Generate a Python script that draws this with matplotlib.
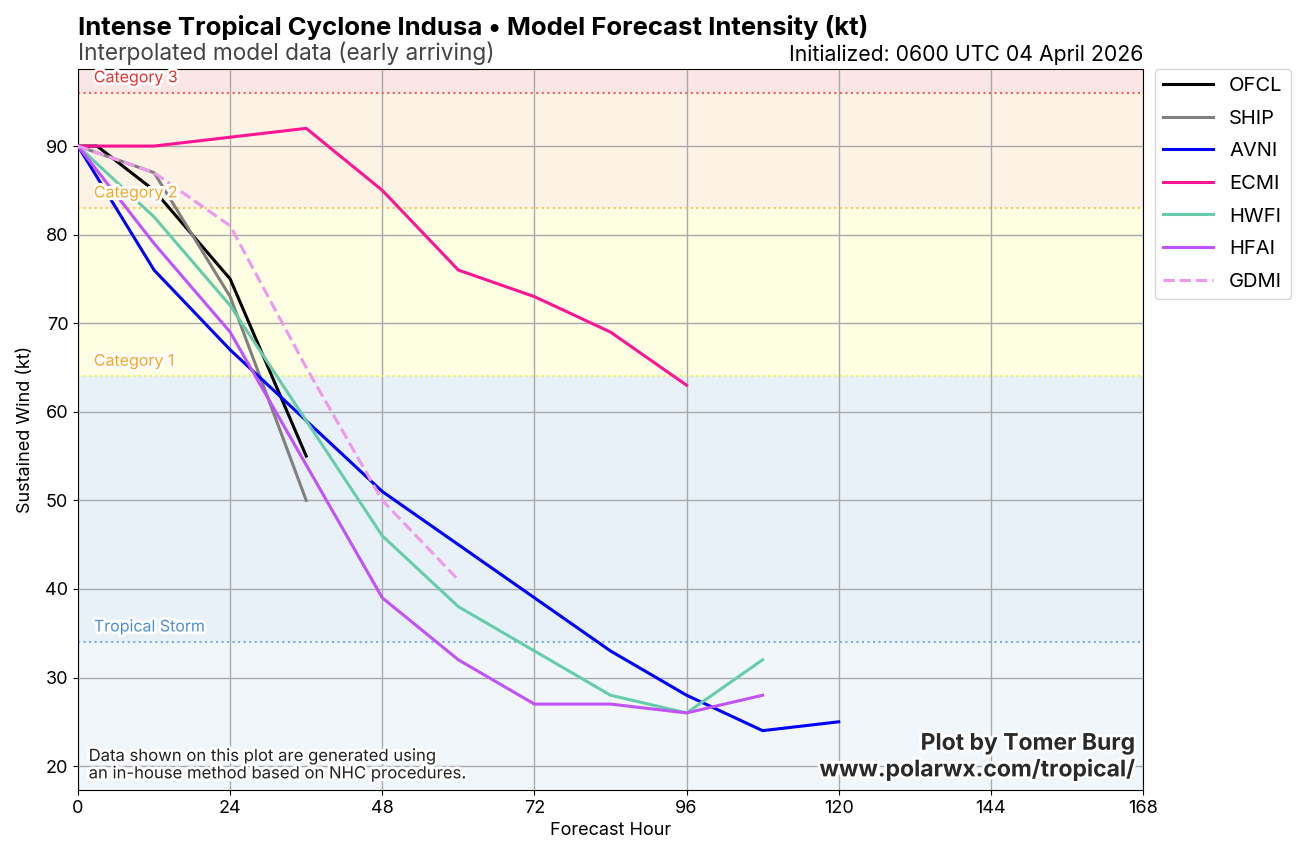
import matplotlib
matplotlib.use("Agg")
import matplotlib.pyplot as plt
import matplotlib.patheffects as pe

plt.rcParams['font.family'] = ['Inter', 'DejaVu Sans']

# forecast hours and intensities (kt) per model
hours = [0, 12, 24, 36, 48, 60, 72, 84, 96, 108, 120]
ofcl_hr = [0, 3, 12, 24, 36]
ofcl = [90, 90, 85, 75, 55]
ship = [90, 87, 73, 50]
avni = [90, 76, 67, 59, 51, 45, 39, 33, 28, 24, 25]
ecmi = [90, 90, 91, 92, 85, 76, 73, 69, 63]
hwfi = [90, 82, 72, 59, 46, 38, 33, 28, 26, 32]
hfai = [90, 79, 69, 54, 39, 32, 27, 27, 26, 28]
gdmi = [90, 87, 81, 65, 50, 41]

models = [
    ("OFCL", ofcl_hr, ofcl, "k", "-"),
    ("SHIP", hours[:len(ship)], ship, "#808080", "-"),
    ("AVNI", hours[:len(avni)], avni, "#0000ff", "-"),
    ("ECMI", hours[:len(ecmi)], ecmi, "#ff1493", "-"),
    ("HWFI", hours[:len(hwfi)], hwfi, "#66cdaa", "-"),
    ("HFAI", hours[:len(hfai)], hfai, "#c252fc", "-"),
    ("GDMI", hours[:len(gdmi)], gdmi, "#ee99ee", "--"),
]

# category thresholds
cats = [("Tropical Storm", 34, "#4a90d9"),
        ("Category 1", 64, "#f5a623"),
        ("Category 2", 83, "#f5a623"),
        ("Category 3", 96, "#e8322f")]
line_cols = {34: "#7aaee0", 64: "#f0f05a", 83: "#fac25a", 96: "#f06060"}

fig = plt.figure(figsize=(13.06, 8.6), dpi=100)
ax = fig.add_axes([78/1306, 1-790/860, (1143-78)/1306, (790-69)/860])

ymin, ymax = 17.3, 98.7
ax.axhspan(ymin, 34, color="#f1f6fb", zorder=0, lw=0)
ax.axhspan(34, 64, color="#e8f0f8", zorder=0, lw=0)
ax.axhspan(64, 83, color="#fefee3", zorder=0, lw=0)
ax.axhspan(83, 96, color="#fdf3e4", zorder=0, lw=0)
ax.axhspan(96, ymax, color="#fce5e5", zorder=0, lw=0)

for name, val, tcol in cats:
    ax.axhline(val, color=line_cols[val], ls=":", lw=1.5, zorder=1)
    ax.text(2.5, val + 1.2, name, color=tcol, fontsize=11.5, zorder=5,
            path_effects=[pe.withStroke(linewidth=4, foreground="white")])

ax.grid(True, color="#aaaaaa", lw=1, zorder=2)
ax.set_axisbelow(True)

for name, x, y, c, ls in models:
    ax.plot(x, y, color=c, ls=ls, lw=2.2, label=name, zorder=4)

ax.set_xlim(0, 168)
ax.set_ylim(ymin, ymax)
ax.set_xticks(range(0, 169, 24))
ax.set_yticks(range(20, 91, 10))
ax.tick_params(labelsize=13)
ax.set_xlabel("Forecast Hour", fontsize=13)
ax.set_ylabel("Sustained Wind (kt)", fontsize=13, labelpad=8)

leg = ax.legend(loc="upper left", bbox_to_anchor=(1.011, 1.0), fontsize=14.5,
                handlelength=2.5, borderaxespad=0, labelspacing=0.72)

ax.text(0.01, 0.012, "Data shown on this plot are generated using\nan in-house method based on NHC procedures.",
        transform=ax.transAxes, fontsize=12, color="#222222", ha="left", va="bottom",
        path_effects=[pe.withStroke(linewidth=4, foreground="white")], zorder=6)
ax.text(0.992, 0.012, "Plot by Tomer Burg\nwww.polarwx.com/tropical/",
        transform=ax.transAxes, fontsize=16.5, weight="bold", color="#2a2a2a",
        ha="right", va="bottom", multialignment="right",
        path_effects=[pe.withStroke(linewidth=4, foreground="white")], zorder=6)

ax.text(0, 1.04, "Intense Tropical Cyclone Indusa \u2022 Model Forecast Intensity (kt)",
        transform=ax.transAxes, fontsize=18.5, weight="bold", ha="left", va="bottom")
ax.text(0, 1.006, "Interpolated model data (early arriving)", transform=ax.transAxes,
        fontsize=16.3, color="#444444", ha="left", va="bottom")
ax.text(1, 1.006, "Initialized: 0600 UTC 04 April 2026", transform=ax.transAxes,
        fontsize=15.3, ha="right", va="bottom")

fig.savefig("out.png", dpi=100)
